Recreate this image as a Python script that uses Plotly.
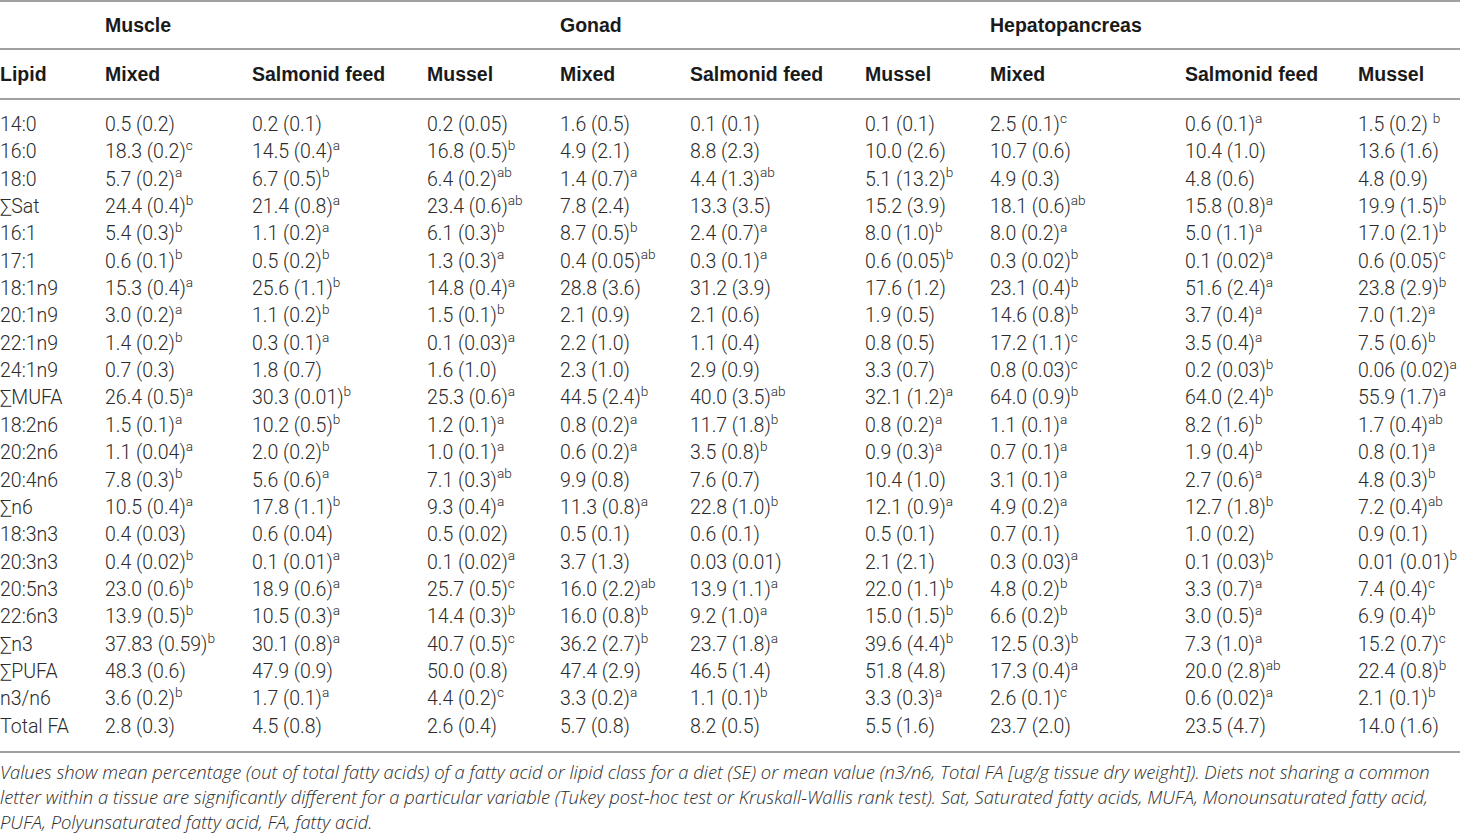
import plotly.graph_objects as go

# ---------------- data ----------------
lipids = ["14:0", "16:0", "18:0", "∑Sat", "16:1", "17:1", "18:1n9", "20:1n9", "22:1n9",
          "24:1n9", "∑MUFA", "18:2n6", "20:2n6", "20:4n6", "∑n6", "18:3n3", "20:3n3",
          "20:5n3", "22:6n3", "∑n3", "∑PUFA", "n3/n6", "Total FA"]

tissues = ["Muscle", "Gonad", "Hepatopancreas"]
diets = ["Mixed", "Salmonid feed", "Mussel", "Mixed", "Salmonid feed", "Mussel",
         "Mixed", "Salmonid feed", "Mussel"]

muscle_mixed = ["0.5 (0.2)", "18.3 (0.2)^c", "5.7 (0.2)^a", "24.4 (0.4)^b", "5.4 (0.3)^b",
                "0.6 (0.1)^b", "15.3 (0.4)^a", "3.0 (0.2)^a", "1.4 (0.2)^b", "0.7 (0.3)",
                "26.4 (0.5)^a", "1.5 (0.1)^a", "1.1 (0.04)^a", "7.8 (0.3)^b", "10.5 (0.4)^a",
                "0.4 (0.03)", "0.4 (0.02)^b", "23.0 (0.6)^b", "13.9 (0.5)^b", "37.83 (0.59)^b",
                "48.3 (0.6)", "3.6 (0.2)^b", "2.8 (0.3)"]
muscle_salmonid = ["0.2 (0.1)", "14.5 (0.4)^a", "6.7 (0.5)^b", "21.4 (0.8)^a", "1.1 (0.2)^a",
                   "0.5 (0.2)^b", "25.6 (1.1)^b", "1.1 (0.2)^b", "0.3 (0.1)^a", "1.8 (0.7)",
                   "30.3 (0.01)^b", "10.2 (0.5)^b", "2.0 (0.2)^b", "5.6 (0.6)^a", "17.8 (1.1)^b",
                   "0.6 (0.04)", "0.1 (0.01)^a", "18.9 (0.6)^a", "10.5 (0.3)^a", "30.1 (0.8)^a",
                   "47.9 (0.9)", "1.7 (0.1)^a", "4.5 (0.8)"]
muscle_mussel = ["0.2 (0.05)", "16.8 (0.5)^b", "6.4 (0.2)^ab", "23.4 (0.6)^ab", "6.1 (0.3)^b",
                 "1.3 (0.3)^a", "14.8 (0.4)^a", "1.5 (0.1)^b", "0.1 (0.03)^a", "1.6 (1.0)",
                 "25.3 (0.6)^a", "1.2 (0.1)^a", "1.0 (0.1)^a", "7.1 (0.3)^ab", "9.3 (0.4)^a",
                 "0.5 (0.02)", "0.1 (0.02)^a", "25.7 (0.5)^c", "14.4 (0.3)^b", "40.7 (0.5)^c",
                 "50.0 (0.8)", "4.4 (0.2)^c", "2.6 (0.4)"]
gonad_mixed = ["1.6 (0.5)", "4.9 (2.1)", "1.4 (0.7)^a", "7.8 (2.4)", "8.7 (0.5)^b",
               "0.4 (0.05)^ab", "28.8 (3.6)", "2.1 (0.9)", "2.2 (1.0)", "2.3 (1.0)",
               "44.5 (2.4)^b", "0.8 (0.2)^a", "0.6 (0.2)^a", "9.9 (0.8)", "11.3 (0.8)^a",
               "0.5 (0.1)", "3.7 (1.3)", "16.0 (2.2)^ab", "16.0 (0.8)^b", "36.2 (2.7)^b",
               "47.4 (2.9)", "3.3 (0.2)^a", "5.7 (0.8)"]
gonad_salmonid = ["0.1 (0.1)", "8.8 (2.3)", "4.4 (1.3)^ab", "13.3 (3.5)", "2.4 (0.7)^a",
                  "0.3 (0.1)^a", "31.2 (3.9)", "2.1 (0.6)", "1.1 (0.4)", "2.9 (0.9)",
                  "40.0 (3.5)^ab", "11.7 (1.8)^b", "3.5 (0.8)^b", "7.6 (0.7)", "22.8 (1.0)^b",
                  "0.6 (0.1)", "0.03 (0.01)", "13.9 (1.1)^a", "9.2 (1.0)^a", "23.7 (1.8)^a",
                  "46.5 (1.4)", "1.1 (0.1)^b", "8.2 (0.5)"]
gonad_mussel = ["0.1 (0.1)", "10.0 (2.6)", "5.1 (13.2)^b", "15.2 (3.9)", "8.0 (1.0)^b",
                "0.6 (0.05)^b", "17.6 (1.2)", "1.9 (0.5)", "0.8 (0.5)", "3.3 (0.7)",
                "32.1 (1.2)^a", "0.8 (0.2)^a", "0.9 (0.3)^a", "10.4 (1.0)", "12.1 (0.9)^a",
                "0.5 (0.1)", "2.1 (2.1)", "22.0 (1.1)^b", "15.0 (1.5)^b", "39.6 (4.4)^b",
                "51.8 (4.8)", "3.3 (0.3)^a", "5.5 (1.6)"]
hep_mixed = ["2.5 (0.1)^c", "10.7 (0.6)", "4.9 (0.3)", "18.1 (0.6)^ab", "8.0 (0.2)^a",
             "0.3 (0.02)^b", "23.1 (0.4)^b", "14.6 (0.8)^b", "17.2 (1.1)^c", "0.8 (0.03)^c",
             "64.0 (0.9)^b", "1.1 (0.1)^a", "0.7 (0.1)^a", "3.1 (0.1)^a", "4.9 (0.2)^a",
             "0.7 (0.1)", "0.3 (0.03)^a", "4.8 (0.2)^b", "6.6 (0.2)^b", "12.5 (0.3)^b",
             "17.3 (0.4)^a", "2.6 (0.1)^c", "23.7 (2.0)"]
hep_salmonid = ["0.6 (0.1)^a", "10.4 (1.0)", "4.8 (0.6)", "15.8 (0.8)^a", "5.0 (1.1)^a",
                "0.1 (0.02)^a", "51.6 (2.4)^a", "3.7 (0.4)^a", "3.5 (0.4)^a", "0.2 (0.03)^b",
                "64.0 (2.4)^b", "8.2 (1.6)^b", "1.9 (0.4)^b", "2.7 (0.6)^a", "12.7 (1.8)^b",
                "1.0 (0.2)", "0.1 (0.03)^b", "3.3 (0.7)^a", "3.0 (0.5)^a", "7.3 (1.0)^a",
                "20.0 (2.8)^ab", "0.6 (0.02)^a", "23.5 (4.7)"]
hep_mussel = ["1.5 (0.2) ^b", "13.6 (1.6)", "4.8 (0.9)", "19.9 (1.5)^b", "17.0 (2.1)^b",
              "0.6 (0.05)^c", "23.8 (2.9)^b", "7.0 (1.2)^a", "7.5 (0.6)^b", "0.06 (0.02)^a",
              "55.9 (1.7)^a", "1.7 (0.4)^ab", "0.8 (0.1)^a", "4.8 (0.3)^b", "7.2 (0.4)^ab",
              "0.9 (0.1)", "0.01 (0.01)^b", "7.4 (0.4)^c", "6.9 (0.4)^b", "15.2 (0.7)^c",
              "22.4 (0.8)^b", "2.1 (0.1)^b", "14.0 (1.6)"]

footnote_lines = [
    "Values show mean percentage (out of total fatty acids) of a fatty acid or lipid class for a diet (SE) or mean value (n3/n6, Total FA [ug/g tissue dry weight]). Diets not sharing a common",
    "letter within a tissue are significantly different for a particular variable (Tukey post-hoc test or Kruskall-Wallis rank test). Sat, Saturated fatty acids, MUFA, Monounsaturated fatty acid,",
    "PUFA, Polyunsaturated fatty acid, FA, fatty acid.",
]

# ---------------- layout constants ----------------
W, H = 1460, 834
col_x = [0, 105, 252, 427, 560, 690, 865, 990, 1185, 1358]
tissue_col = [1, 4, 7]
row0_px, row_step = 126, 27.36
hdr1_px, hdr2_px = 27, 76
rules_px = [1, 49, 99, 752]
foot_px = [771, 796, 821]

DATA_FONT = dict(family="Roboto", size=19.5, color="#2b2b2b", weight=300)
HEAD_FONT = dict(family="Liberation Sans", size=19.5, color="#1a1a1a", weight="bold")
FOOT_FONT = dict(family="Open Sans", size=18.4, color="#2b2b2b", weight=300, style="italic")


def px_to_row(p):
    return (p - row0_px) / row_step


def fmt(s):
    if "^" in s:
        base, sup = s.split("^")
        return f"{base}<sup>{sup}</sup>"
    return s


columns = [muscle_mixed, muscle_salmonid, muscle_mussel, gonad_mixed, gonad_salmonid,
           gonad_mussel, hep_mixed, hep_salmonid, hep_mussel]

fig = go.Figure()
rows = list(range(len(lipids)))

# lipid names
fig.add_trace(go.Scatter(x=[col_x[0]] * len(lipids), y=rows, mode="text", text=lipids,
                         textposition="middle right", textfont=DATA_FONT,
                         hoverinfo="skip", showlegend=False))
for ci, col in enumerate(columns):
    fig.add_trace(go.Scatter(x=[col_x[ci + 1]] * len(col), y=rows, mode="text",
                             text=[fmt(v) for v in col], textposition="middle right",
                             textfont=DATA_FONT, hoverinfo="skip", showlegend=False))

# header row 2 (diet names)
fig.add_trace(go.Scatter(x=col_x, y=[px_to_row(hdr2_px)] * len(col_x), mode="text",
                         text=[f"<b>{t}</b>" for t in ["Lipid"] + diets],
                         textposition="middle right", textfont=HEAD_FONT,
                         hoverinfo="skip", showlegend=False))
# header row 1 (tissues)
fig.add_trace(go.Scatter(x=[col_x[i] for i in tissue_col], y=[px_to_row(hdr1_px)] * 3,
                         mode="text", text=[f"<b>{t}</b>" for t in tissues],
                         textposition="middle right", textfont=HEAD_FONT,
                         hoverinfo="skip", showlegend=False))

# rules
for p in rules_px:
    fig.add_shape(type="line", xref="paper", yref="paper", x0=0, x1=1,
                  y0=1 - p / H, y1=1 - p / H, line=dict(color="#a0a0a0", width=1.8))

# footnote
for line, p in zip(footnote_lines, foot_px):
    fig.add_annotation(x=0, y=1 - p / H, xref="paper", yref="paper", text=line,
                       showarrow=False, xanchor="left", yanchor="middle", font=FOOT_FONT,
                       xshift=-2)

fig.update_layout(
    width=W, height=H, margin=dict(l=0, r=0, t=0, b=0),
    paper_bgcolor="white", plot_bgcolor="white",
    xaxis=dict(range=[0, W], visible=False, fixedrange=True),
    yaxis=dict(range=[px_to_row(H), px_to_row(0)], visible=False, fixedrange=True),
)

fig.write_html("out.html", config={"displayModeBar": False},
               post_script="document.body.style.margin='0px';")
